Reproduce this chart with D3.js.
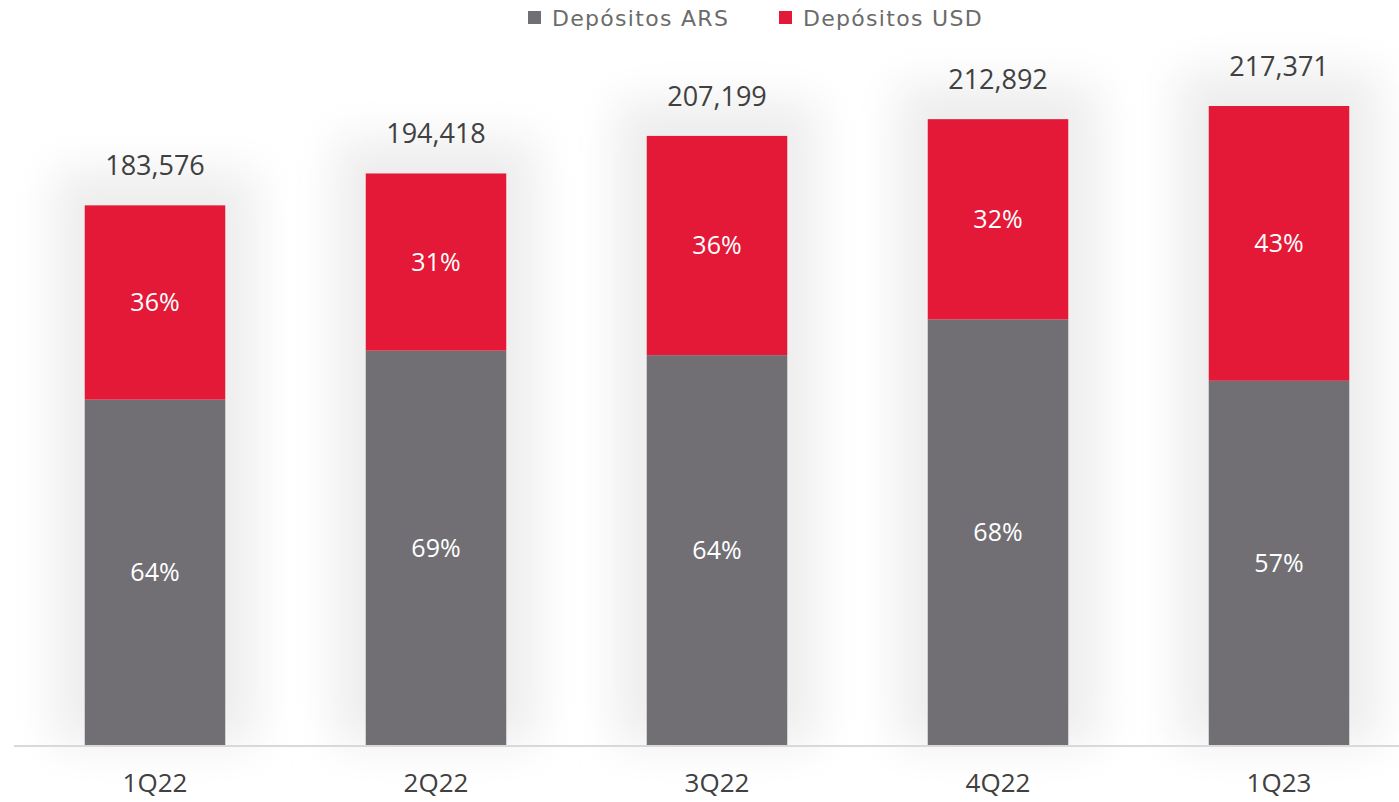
<!DOCTYPE html>
<html>
<head>
<meta charset="utf-8">
<script src="https://cdn.jsdelivr.net/npm/d3@7"></script>
<style>
  body { margin: 0; background: #fff; }
  svg { display: block; }
</style>
</head>
<body>
<svg id="chart" width="1399" height="802"></svg>
<script>
// data
var quarters = ['1Q22', '2Q22', '3Q22', '4Q22', '1Q23'];
var totals = [183576, 194418, 207199, 212892, 217371];
var pctARS = [64, 69, 64, 68, 57];
var pctUSD = [36, 31, 36, 32, 43];
var seriesNames = ['Depósitos ARS', 'Depósitos USD'];
var seriesColors = ['#716F74', '#E31937'];

var svg = d3.select('#chart');
var fontFam = "'Open Sans', 'Liberation Sans', sans-serif";

var scX = d3.scaleBand().domain(quarters).range([14.5, 1419.5]).paddingInner(0.5).paddingOuter(0.25);
var scY = d3.scaleLinear().domain([0, 217371]).range([745, 106]);

// soft glow behind the bars
var defs = svg.append('defs');
var flt = defs.append('filter').attr('id', 'glow')
  .attr('x', '-60%').attr('y', '-30%').attr('width', '220%').attr('height', '160%');
flt.append('feGaussianBlur').attr('stdDeviation', 22);

// stacked rows: [bottom, top] in value units
var rows = quarters.map((q, i) => {
  var ars = totals[i] * pctARS[i] / (pctARS[i] + pctUSD[i]);
  return { q: q, total: totals[i], segs: [
    { s: 0, y0: 0, y1: ars, p: pctARS[i] },
    { s: 1, y0: ars, y1: totals[i], p: pctUSD[i] }
  ] };
});

svg.append('g')
  .selectAll('rect')
  .data(rows)
  .enter()
  .append('rect')
  .attr('x', (d) => scX(d.q) - 30)
  .attr('y', (d) => scY(d.total) - 35)
  .attr('width', scX.bandwidth() + 60)
  .attr('height', (d) => scY(0) - scY(d.total) + 35)
  .attr('fill', '#ededed')
  .attr('filter', 'url(#glow)');

// baseline
svg.append('line')
  .attr('x1', 14).attr('x2', 1399)
  .attr('y1', scY(0) + 1).attr('y2', scY(0) + 1)
  .attr('stroke', '#d9d9d9').attr('stroke-width', 2);

var bars = svg.append('g')
  .selectAll('g')
  .data(rows)
  .enter()
  .append('g');

bars.selectAll('rect')
  .data((d) => d.segs.map((s) => Object.assign({ q: d.q }, s)))
  .enter()
  .append('rect')
  .attr('x', (d) => scX(d.q))
  .attr('width', scX.bandwidth())
  .attr('y', (d) => scY(d.y1))
  .attr('height', (d) => scY(d.y0) - scY(d.y1))
  .attr('fill', (d) => seriesColors[d.s]);

bars.selectAll('text.pct')
  .data((d) => d.segs.map((s) => Object.assign({ q: d.q }, s)))
  .enter()
  .append('text')
  .attr('class', 'pct')
  .attr('x', (d) => scX(d.q) + scX.bandwidth() / 2)
  .attr('y', (d) => (scY(d.y0) + scY(d.y1)) / 2)
  .attr('dy', '0.35em')
  .attr('text-anchor', 'middle')
  .attr('font-family', fontFam)
  .attr('font-size', 25)
  .attr('fill', '#ffffff')
  .text((d) => d.p + '%');

// totals above bars
bars.append('text')
  .attr('x', (d) => scX(d.q) + scX.bandwidth() / 2)
  .attr('y', (d) => scY(d.total) - 30)
  .attr('text-anchor', 'middle')
  .attr('font-family', fontFam)
  .attr('font-size', 27)
  .attr('fill', '#404040')
  .text((d) => d3.format(',')(d.total));

// category axis
var xAxis = svg.append('g')
  .attr('transform', 'translate(0,' + (scY(0) + 1) + ')')
  .call(d3.axisBottom(scX).tickSize(0).tickPadding(28));
xAxis.select('.domain').remove();
xAxis.selectAll('text')
  .attr('font-family', fontFam)
  .attr('font-size', 26)
  .attr('fill', '#404040');

// legend
var leg = svg.append('g').attr('transform', 'translate(528, 18)');
var legX = [0, 251];
seriesNames.forEach((n, i) => {
  var g = leg.append('g').attr('transform', 'translate(' + legX[i] + ',0)');
  g.append('rect').attr('x', 0).attr('y', -7).attr('width', 13).attr('height', 13)
    .attr('fill', seriesColors[i]);
  g.append('text').attr('x', 24).attr('y', 0).attr('dy', '0.35em')
    .attr('font-family', "'DejaVu Sans', sans-serif").attr('font-size', 22)
    .attr('letter-spacing', 1.3)
    .attr('fill', '#6b6b6b')
    .text(n);
});
</script>
</body>
</html>
